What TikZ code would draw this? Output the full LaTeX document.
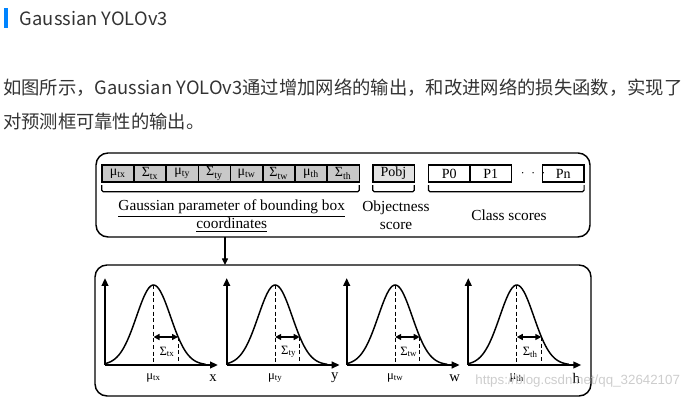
\documentclass[tikz,border=0pt]{standalone}
\usepackage{fontspec}
\setmainfont{Liberation Serif}
\newfontfamily\cjkfont{Noto Sans CJK SC}
\newfontfamily\markfont{Liberation Sans}
\usetikzlibrary{positioning, arrows.meta}
\definecolor{textgray}{RGB}{51, 51, 51}
\definecolor{barblue}{RGB}{0, 132, 255}
\definecolor{cellgray}{RGB}{200, 200, 200}
\definecolor{pobjgray}{RGB}{226, 226, 226}
\definecolor{markgray}{RGB}{205, 205, 205}

\begin{document}
\begin{tikzpicture}[x=0.75pt, y=-0.75pt, every node/.style={inner sep=0pt, outer sep=0pt}]
    \tikzstyle{gcell} = [draw, fill=cellgray, line width=1.2pt, minimum width=24.15pt, minimum height=12.4pt, font=\fontsize{10.5}{12}\selectfont]
    \tikzstyle{pcell} = [draw, line width=1.2pt, minimum width=31.2pt, minimum height=12.4pt, font=\fontsize{10.5}{12}\selectfont]
    \tikzstyle{panel} = [draw, line width=1.1pt, rounded corners=9pt]
    \tikzstyle{brace} = [line width=0.9pt, rounded corners=1.2pt]
    \tikzstyle{caption} = [align=center, font=\fontsize{11.5}{13.5}\selectfont]
    \tikzstyle{axis} = [line width=1.6pt, -{Triangle[length=6pt, width=5pt]}]
    \tikzstyle{curve} = [line width=1.1pt]
    \tikzstyle{spread} = [line width=1.4pt, {Triangle[length=4.5pt, width=4.5pt]}-{Triangle[length=4.5pt, width=4.5pt]}]
    \tikzstyle{guide} = [line width=0.6pt, dash pattern=on 3pt off 2pt]
    \tikzstyle{arrow} = [line width=1pt, -{Triangle[length=5pt, width=4.5pt]}]
    \tikzstyle{prose} = [anchor=west, text=textgray, font=\cjkfont\fontsize{13.75}{16}\selectfont]

    \useasboundingbox (0,0) rectangle (686,402);

    % Page text
    \fill[barblue] (4,8.3) rectangle (8.3,28.3);
    \node (title) [prose] at (20,19) {Gaussian YOLOv3};
    \node (line1) [prose] at (3,88) {如图所示，Gaussian YOLOv3通过增加网络的输出，和改进网络的损失函数，实现了};
    \node (line2) [prose] at (3,122) {对预测框可靠性的输出。};

    % Output vector
    \node (outbox) [panel, minimum width=370.5pt, minimum height=63pt] at (343,195) {};
    \foreach \lbl [count=\i] in {μ\textsubscript{tx}, Σ\textsubscript{tx}, μ\textsubscript{ty}, Σ\textsubscript{ty}, μ\textsubscript{tw}, Σ\textsubscript{tw}, μ\textsubscript{th}, Σ\textsubscript{th}}
        \node (c\i) [gcell] at ({101.7+32.2*(\i-0.5)},173.5) {\lbl};
    \node (pobj) [pcell, fill=pobjgray] at (393.5,173.5) {Pobj};
    \node (p0) [pcell] at (449.2,173.5) {P0};
    \node (p1) [pcell, right=0pt of p0] {P1};
    \node (dots) [right=7pt of p1] {$\cdot\;\cdot\;\cdot$};
    \node (pn) [pcell] at (563.3,173.5) {Pn};

    % Braces
    \draw [brace] ([yshift=-2.5pt]c1.south west) -- ([yshift=-7.5pt]c1.south west) -- ([yshift=-7.5pt]c8.south east) -- ([yshift=-2.5pt]c8.south east);
    \draw [brace] ([yshift=-2.5pt]pobj.south west) -- ([yshift=-7.5pt]pobj.south west) -- ([yshift=-7.5pt]pobj.south east) -- ([yshift=-2.5pt]pobj.south east);
    \draw [brace] ([yshift=-2.5pt]p0.south west) -- ([yshift=-7.5pt]p0.south west) -- ([yshift=-7.5pt]pn.south east) -- ([yshift=-2.5pt]pn.south east);

    \node (gausslbl) [caption] at (231.7,216) {\underline{Gaussian parameter of bounding box}\\\underline{coordinates}};
    \node (objlbl) [caption] at (396,215) {Objectness\\score};
    \node (clslbl) [caption] at (509,215) {Class scores};

    % Distributions
    \node (plotbox) [panel, minimum width=372pt, minimum height=98.25pt] at (343,330.5) {};
    \foreach \ox/\sub/\ax [count=\i] in {105/tx/x, 226.7/ty/y, 346.7/tw/w, 468.3/th/h} {
        \coordinate (o\i) at (\ox,365);
        \draw [axis] (o\i) -- ++(0,-87);
        \draw [axis] (o\i) -- ++(113,0);
        \draw [curve] plot[domain=-48:52, samples=61, smooth] ({\ox+48.5+\x},{365-80*exp(-((\x)*(\x))/578)});
        \draw [guide] (\ox+48.5,285) -- (\ox+48.5,365);
        \draw [guide] (\ox+73,337) -- (\ox+73,365);
        \draw [spread] (\ox+48.5,337) -- (\ox+73,337);
        \node (s\i) [font=\fontsize{9.5}{10}\selectfont] at (\ox+62,352) {Σ\textsubscript{\sub}};
        \node (m\i) [font=\fontsize{9.5}{10}\selectfont] at (\ox+48.5,378) {μ\textsubscript{\sub}};
        \node (a\i) [font=\fontsize{11}{12}\selectfont] at (\ox+108,378) {\ax};
    }

    % Arrow
    \coordinate (tap) at (225,237);
    \draw [arrow] (tap) -- (tap |- plotbox.north);

    \node (mark) [anchor=east, text=markgray, font=\markfont\fontsize{10}{12}\selectfont] at (680,381) {https://blog.csdn.net/qq\_32642107};
\end{tikzpicture}
\end{document}
